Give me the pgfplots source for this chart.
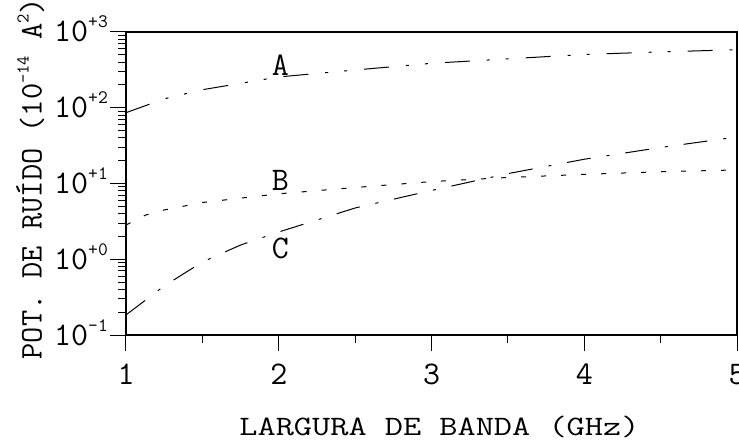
\documentclass[border=0pt]{standalone}
\usepackage{fontspec}
\usepackage{pgfplots}
\pgfplotsset{compat=1.18}

% typewriter lettering, as on a pen plotter
\newcommand{\labfont}{\ttfamily\fontsize{33bp}{34bp}\selectfont}
\newcommand{\ylabfont}{\ttfamily\fontsize{31.5bp}{32bp}\selectfont}
\newcommand{\sups}[1]{\raisebox{14bp}{\fontsize{19bp}{19bp}\selectfont #1}}
\newcommand{\ysups}[1]{\raisebox{13bp}{\fontsize{18bp}{18bp}\selectfont #1}}

% Noise power versus bandwidth for the three receivers A, B and C
\pgfplotstableread{
x    y
1.00 86
1.25 131
1.50 173
2.00 255
2.50 315
3.00 386
3.50 442
4.00 505
4.50 546
5.00 583
}\curveA
\pgfplotstableread{
x    y
1.00 2.83
1.13 3.84
1.25 4.47
1.50 5.61
2.00 7.31
2.50 8.85
3.00 10.6
3.50 12.0
4.00 13.2
4.50 14.3
5.00 15.1
}\curveB
\pgfplotstableread{
x    y
1.00 0.184
1.25 0.444
1.50 0.92
1.75 1.54
2.00 2.29
2.50 4.75
3.00 8.09
3.50 13.5
4.00 20.9
4.50 29.9
5.00 41.1
}\curveC

\begin{document}
\begin{tikzpicture}
\begin{axis}[
  scale only axis,
  width=611bp, height=303bp,
  xmin=1, xmax=5, ymin=0.1, ymax=1000,
  ymode=log,
  xtick={1,2,3,4,5},
  xticklabels={1,2,3,4,5},
  minor xtick={1.5,2.5,3.5,4.5},
  ytick={0.1,1,10,100,1000},
  yticklabels={10\sups{-1},10\sups{+0},10\sups{+1},10\sups{+2},10\sups{+3}},
  minor ytick={0.2,0.3,0.4,0.5,0.6,0.7,0.8,0.9,2,3,4,5,6,7,8,9,20,30,40,50,60,70,80,90,200,300,400,500,600,700,800,900},
  tick pos=left,
  tick align=outside,
  major tick length=16bp,
  minor tick length=8bp,
  axis line style={line width=1.2bp},
  every tick/.style={black, line width=1bp},
  tick label style={font=\labfont, inner sep=2bp},
  xticklabel style={anchor=base, yshift=-34bp},
  yticklabel style={anchor=base east, yshift=-10bp},
  xlabel={\scalebox{1.07}[0.85]{LARGURA DE BANDA (GHz)}},
  ylabel={POT. DE RUÍDO (10\ysups{-14} A\ysups{2})},
  xlabel style={font=\labfont, at={(axis description cs:0.513,-0.331)}, anchor=base},
  ylabel style={font=\ylabfont, at={(axis description cs:-0.138,-0.092)}, anchor=base west},
]
\addplot[black, line width=1bp, dash pattern=on 25bp off 17bp on 3bp off 16bp on 3bp off 17bp] table[x=x,y=y] {\curveA};
\addplot[black, line width=1bp, dash pattern=on 5bp off 15bp] table[x=x,y=y] {\curveB};
\addplot[black, line width=1bp, dash pattern=on 24bp off 16bp on 3bp off 16bp] table[x=x,y=y] {\curveC};
\node[font=\labfont] at (axis cs:2.01,366) {A};
\node[font=\labfont] at (axis cs:2.01,10.9) {B};
\node[font=\labfont] at (axis cs:2.01,1.41) {C};
\end{axis}
\pgfresetboundingbox
\path (-126bp,-106bp) rectangle (613bp,335bp);
\end{tikzpicture}
\end{document}
